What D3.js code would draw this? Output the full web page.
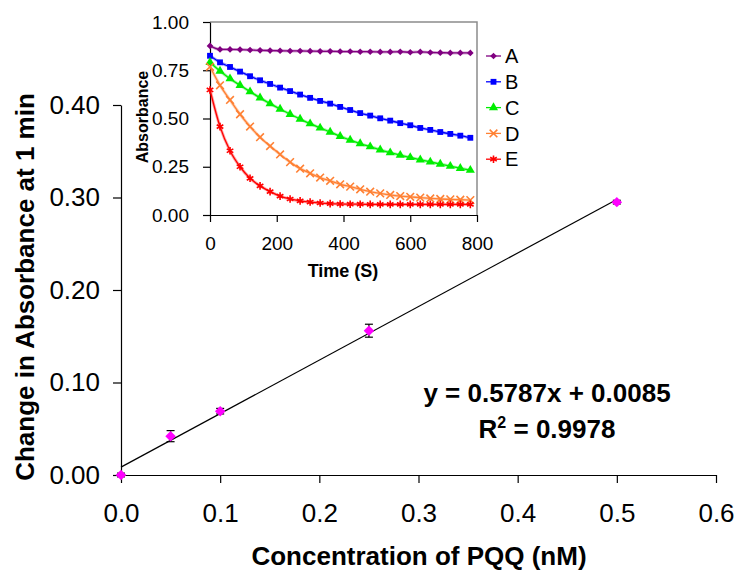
<!DOCTYPE html>
<html>
<head>
<meta charset="utf-8">
<script src="https://cdn.jsdelivr.net/npm/d3@7"></script>
<style>
  body { margin: 0; background: #fff; }
  text { font-family: "Liberation Sans", Arial, sans-serif; }
</style>
</head>
<body>
<svg id="chart"></svg>
<script>
// Main chart data: change in absorbance at 1 min vs PQQ concentration
const concentration = [0, 0.05, 0.1, 0.25, 0.5];
const absorbanceChange = [0.000, 0.042, 0.069, 0.156, 0.295];
const changeError = [0.002, 0.006, 0.003, 0.007, 0.002];
const fitSlope = 0.5787;
const fitIntercept = 0.0085;
const fitR2 = "0.9978";
const xTicks = [0, 0.1, 0.2, 0.3, 0.4, 0.5, 0.6];
const yTicks = [0, 0.1, 0.2, 0.3, 0.4];

// Inset data: absorbance over time for runs A-E
const timeSeconds = [0, 30, 60, 90, 120, 150, 180, 210, 240, 270, 300, 330, 360, 390,
    420, 450, 480, 510, 540, 570, 600, 630, 660, 690, 720, 750, 780];
const seriesA = [0.876, 0.858, 0.858, 0.857, 0.855, 0.853, 0.852, 0.851, 0.850, 0.850, 0.849,
    0.848, 0.848, 0.847, 0.847, 0.846, 0.846, 0.845, 0.845, 0.846, 0.843, 0.845, 0.842,
    0.841, 0.840, 0.840, 0.840];
const seriesB = [0.825, 0.791, 0.767, 0.743, 0.719, 0.698, 0.679, 0.660, 0.642, 0.624, 0.607,
    0.591, 0.577, 0.560, 0.544, 0.528, 0.515, 0.501, 0.489, 0.476, 0.465, 0.451, 0.441,
    0.430, 0.420, 0.411, 0.400];
const seriesC = [0.791, 0.746, 0.706, 0.672, 0.639, 0.607, 0.577, 0.549, 0.522, 0.497, 0.473,
    0.451, 0.430, 0.408, 0.388, 0.370, 0.354, 0.338, 0.323, 0.310, 0.298, 0.286, 0.275,
    0.264, 0.253, 0.242, 0.232];
const seriesD = [0.768, 0.672, 0.596, 0.522, 0.458, 0.403, 0.357, 0.314, 0.274, 0.240, 0.216,
    0.194, 0.177, 0.159, 0.147, 0.133, 0.121, 0.112, 0.104, 0.098, 0.094, 0.090, 0.086,
    0.083, 0.081, 0.079, 0.077];
const seriesE = [0.648, 0.458, 0.333, 0.250, 0.190, 0.151, 0.121, 0.098, 0.083, 0.073, 0.067,
    0.062, 0.059, 0.057, 0.056, 0.056, 0.055, 0.055, 0.055, 0.055, 0.055, 0.055, 0.055,
    0.055, 0.055, 0.055, 0.055];
const seriesNames = ["A", "B", "C", "D", "E"];
const insetXTicks = [0, 200, 400, 600, 800];
const insetYTicks = [0, 0.25, 0.5, 0.75, 1.0];

const width = 737;
const height = 573;

const svg = d3.select("#chart")
    .attr("width", width)
    .attr("height", height);

// ---------- main chart ----------
const x = d3.scaleLinear().domain([0, 0.6]).range([121, 716]);
const y = d3.scaleLinear().domain([0, 0.4]).range([475, 105]);

const xAxis = svg.append("g")
    .attr("transform", `translate(0,${y(0)})`)
    .call(d3.axisBottom(x).tickValues(xTicks).tickFormat(d3.format(".1f")).tickSizeInner(8).tickSizeOuter(0).tickPadding(21));
const yAxis = svg.append("g")
    .attr("transform", `translate(${x(0)},0)`)
    .call(d3.axisLeft(y).tickValues(yTicks).tickFormat(d3.format(".2f")).tickSizeInner(8).tickSizeOuter(0).tickPadding(13));

[xAxis, yAxis].forEach(a => {
    a.select(".domain").attr("stroke", "#000").attr("stroke-width", 1.2);
    a.selectAll(".tick line").attr("stroke", "#000").attr("stroke-width", 1.2);
    a.selectAll(".tick text")
        .attr("fill", "#000")
        .style("font-size", "26px")
        .style("font-family", "'Liberation Sans', Arial, sans-serif");
});

// regression line
svg.append("line")
    .attr("x1", x(0)).attr("y1", y(fitIntercept))
    .attr("x2", x(0.5)).attr("y2", y(fitSlope * 0.5 + fitIntercept))
    .attr("stroke", "#000")
    .attr("stroke-width", 1.2);

const points = concentration.map((c, i) => ({ c: c, v: absorbanceChange[i], e: changeError[i] }));

// error bars
const errG = svg.append("g").attr("stroke", "#000").attr("stroke-width", 1.2);
points.forEach(p => {
    errG.append("line").attr("x1", x(p.c)).attr("x2", x(p.c))
        .attr("y1", y(p.v - p.e)).attr("y2", y(p.v + p.e));
    [p.v - p.e, p.v + p.e].forEach(v => {
        errG.append("line").attr("x1", x(p.c) - 4).attr("x2", x(p.c) + 4)
            .attr("y1", y(v)).attr("y2", y(v));
    });
});

svg.selectAll(".main-point")
    .data(points)
    .enter().append("path")
    .attr("class", "main-point")
    .attr("transform", d => `translate(${x(d.c)},${y(d.v)})`)
    .attr("d", d3.symbol().type(d3.symbolDiamond2).size(70))
    .attr("fill", "#ff00ff");

// axis titles
svg.append("text")
    .attr("x", 419).attr("y", 565)
    .attr("text-anchor", "middle")
    .style("font-size", "26px").style("font-weight", "bold")
    .text("Concentration of PQQ (nM)");

svg.append("text")
    .attr("transform", "translate(34,287) rotate(-90)")
    .attr("text-anchor", "middle")
    .style("font-size", "26px").style("font-weight", "bold")
    .text("Change in Absorbance at 1 min");

// equation
svg.append("text")
    .attr("x", 547).attr("y", 402)
    .attr("text-anchor", "middle")
    .style("font-size", "26px").style("font-weight", "bold")
    .text(`y = ${fitSlope}x + ${fitIntercept}`);

const r2 = svg.append("text")
    .attr("x", 547).attr("y", 438)
    .attr("text-anchor", "middle")
    .style("font-size", "26px").style("font-weight", "bold");
r2.append("tspan").text("R");
r2.append("tspan").attr("dy", -10).style("font-size", "16px").text("2");
r2.append("tspan").attr("dy", 10).text(` = ${fitR2}`);

// ---------- inset chart ----------
const ix = d3.scaleLinear().domain([0, 800]).range([210, 477]);
const iy = d3.scaleLinear().domain([0, 1]).range([215, 22]);

// plot area frame (top and right)
svg.append("path")
    .attr("d", `M${ix(0)},${iy(1)}H${ix(800)}V${iy(0)}`)
    .attr("fill", "none")
    .attr("stroke", "#8c8c8c")
    .attr("stroke-width", 1.5);

const ixAxis = svg.append("g")
    .attr("transform", `translate(0,${iy(0)})`)
    .call(d3.axisBottom(ix).tickValues(insetXTicks).tickFormat(d3.format("d")).tickSizeInner(7).tickSizeOuter(0).tickPadding(15));
const iyAxis = svg.append("g")
    .attr("transform", `translate(${ix(0)},0)`)
    .call(d3.axisLeft(iy).tickValues(insetYTicks).tickFormat(d3.format(".2f")).tickSizeInner(7).tickSizeOuter(0).tickPadding(14));

[ixAxis, iyAxis].forEach(a => {
    a.select(".domain").attr("stroke", "#000").attr("stroke-width", 1.2);
    a.selectAll(".tick line").attr("stroke", "#000").attr("stroke-width", 1.2);
    a.selectAll(".tick text")
        .attr("fill", "#000")
        .style("font-size", "19px")
        .style("font-family", "'Liberation Sans', Arial, sans-serif");
});

svg.append("text")
    .attr("x", 343).attr("y", 277)
    .attr("text-anchor", "middle")
    .style("font-size", "18px").style("font-weight", "bold")
    .text("Time (S)");

svg.append("text")
    .attr("transform", "translate(148,117) rotate(-90)")
    .attr("text-anchor", "middle")
    .style("font-size", "16px").style("font-weight", "bold")
    .text("Absorbance");

const seriesValues = [seriesA, seriesB, seriesC, seriesD, seriesE];
const seriesColors = ["#800080", "#0000ff", "#00ee00", "#ff8033", "#ff0000"];
const seriesSymbols = [
    { type: d3.symbolDiamond2, size: 28, fill: true },
    { type: d3.symbolSquare, size: 34, fill: true },
    { type: d3.symbolTriangle, size: 36, fill: true },
    { type: d3.symbolTimes, size: 40, fill: false },
    { type: d3.symbolAsterisk, size: 40, fill: false }
];

const line = d3.line()
    .x(d => ix(d.t))
    .y(d => iy(d.v))
    .curve(d3.curveMonotoneX);

function drawMarker(g, i, px, py) {
    const s = seriesSymbols[i];
    const m = g.append("path")
        .attr("transform", `translate(${px},${py})`)
        .attr("d", d3.symbol().type(s.type).size(s.size));
    if (s.fill) {
        m.attr("fill", seriesColors[i]);
    } else {
        m.attr("fill", "none").attr("stroke", seriesColors[i]).attr("stroke-width", 1.6);
    }
}

seriesValues.forEach((vals, i) => {
    const data = timeSeconds.map((t, j) => ({ t: t, v: vals[j] }));
    const g = svg.append("g").attr("class", "series-" + seriesNames[i]);
    g.append("path")
        .datum(data)
        .attr("d", line)
        .attr("fill", "none")
        .attr("stroke", seriesColors[i])
        .attr("stroke-opacity", 0.35)
        .attr("stroke-width", 3);
    g.append("path")
        .datum(data)
        .attr("d", line)
        .attr("fill", "none")
        .attr("stroke", seriesColors[i])
        .attr("stroke-width", 1.3);
    data.forEach(d => drawMarker(g, i, ix(d.t), iy(d.v)));
});

// legend
const legend = svg.append("g").attr("class", "legend");
seriesNames.forEach((name, i) => {
    const ly = 56 + i * 25.8;
    legend.append("line")
        .attr("x1", 486).attr("x2", 501)
        .attr("y1", ly).attr("y2", ly)
        .attr("stroke", seriesColors[i])
        .attr("stroke-width", 1.3);
    drawMarker(legend, i, 493.5, ly);
    legend.append("text")
        .attr("x", 505).attr("y", ly)
        .attr("dy", "0.36em")
        .style("font-size", "20px")
        .text(name);
});
</script>
</body>
</html>
